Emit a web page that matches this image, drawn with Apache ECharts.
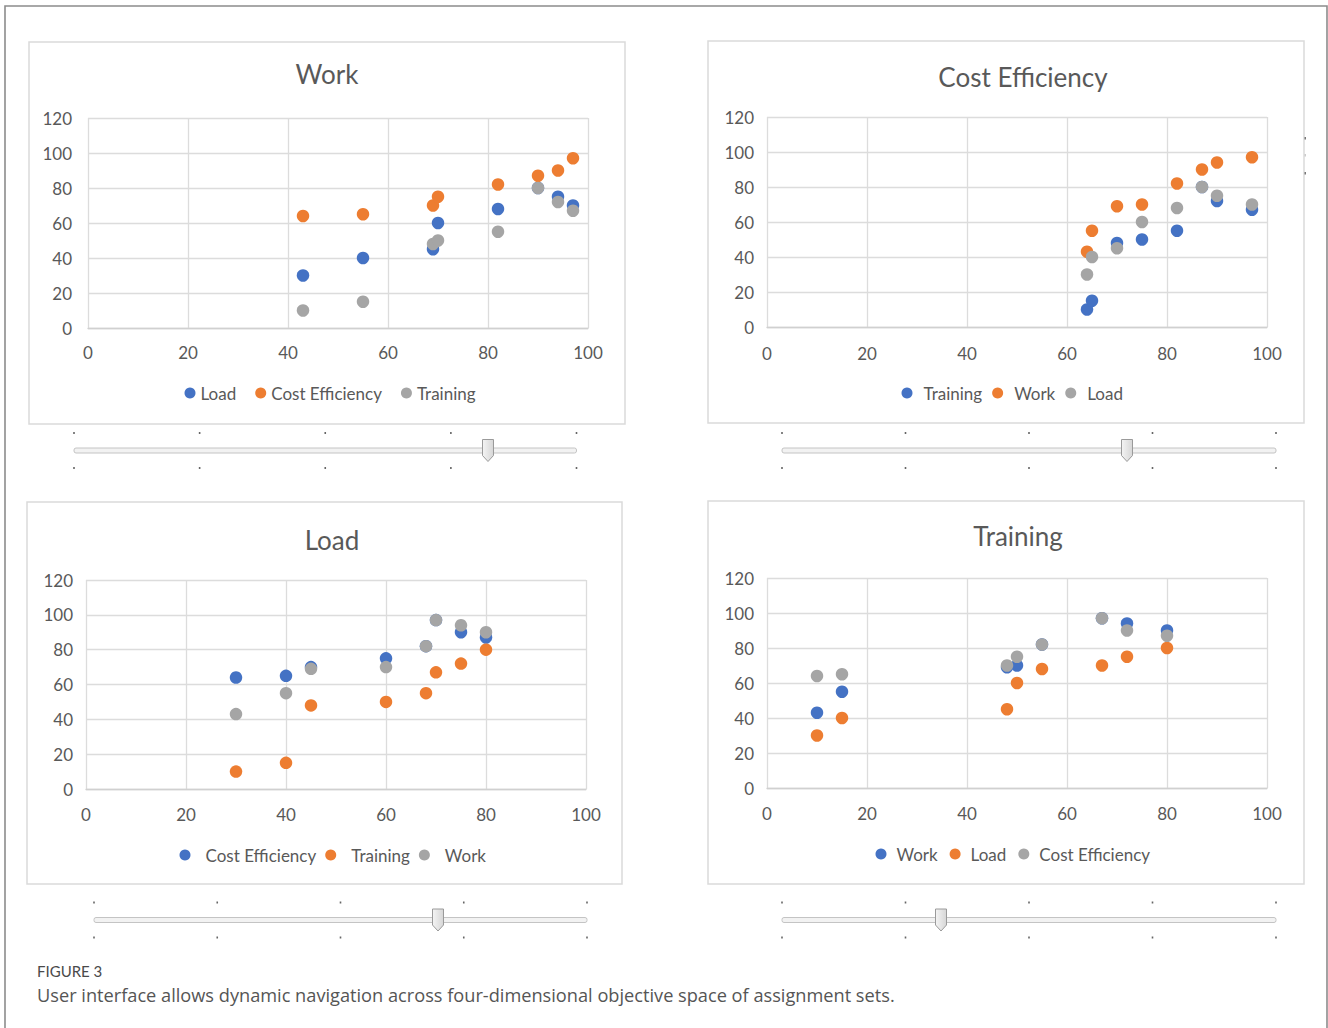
<!DOCTYPE html>
<html><head><meta charset="utf-8">
<script src="https://cdn.jsdelivr.net/npm/echarts@6/dist/echarts.min.js"></script>
<style>html,body{margin:0;padding:0;background:#fff}#c{width:1328px;height:1028px}</style>
</head><body><div id="c"></div>
<script>
// ---- data (one set of 8 assignment sets) ----
const work           = [43, 55, 69, 70, 82, 90, 94, 97];
const costEfficiency = [64, 65, 70, 75, 82, 87, 90, 97];
const training       = [10, 15, 48, 50, 55, 80, 72, 67];
const load           = [30, 40, 45, 60, 68, 80, 75, 70];
const panelTitles = ['Work', 'Cost Efficiency', 'Load', 'Training'];
const xTickMax = 100, yTickMax = 120, tickStep = 20;
const caption1 = 'FIGURE 3';
const caption2 = 'User interface allows dynamic navigation across four-dimensional objective space of assignment sets.';

const BLUE = '#4472C4', ORANGE = '#ED7D31', GRAY = '#A5A5A5';
const FONT = 'Lato, "Open Sans", sans-serif';
const TXT = '#595959';

const metrics = {
  'Work': work, 'Cost Efficiency': costEfficiency, 'Training': training, 'Load': load
};
const panels = [
  { title: panelTitles[0], x: 'Work', series: ['Load', 'Cost Efficiency', 'Training'],
    grid: {left: 88, top: 118, width: 500, height: 210}, box: [29, 42, 596, 382],
    titlePos: [327, 74], legend: {left: 184.5, top: 384.5, gap: 19, pad: 0}, xMargin: 16, yMargin: 16 },
  { title: panelTitles[1], x: 'Cost Efficiency', series: ['Training', 'Work', 'Load'],
    grid: {left: 767, top: 117, width: 500, height: 210}, box: [708, 41, 596, 382],
    titlePos: [1023, 77], legend: {left: 901.5, top: 384.5, gap: 10, pad: 6}, xMargin: 18, yMargin: 13 },
  { title: panelTitles[2], x: 'Load', series: ['Cost Efficiency', 'Training', 'Work'],
    grid: {left: 86, top: 580, width: 500, height: 209}, box: [27, 502, 595, 382],
    titlePos: [332, 540], legend: {left: 179.5, top: 846.5, gap: 9, pad: 10}, xMargin: 17, yMargin: 13 },
  { title: panelTitles[3], x: 'Training', series: ['Work', 'Load', 'Cost Efficiency'],
    grid: {left: 767, top: 578, width: 500, height: 210}, box: [708, 501, 596, 383],
    titlePos: [1018, 536], legend: {left: 875.5, top: 845.5, gap: 12, pad: 5}, xMargin: 17, yMargin: 13 }
];
const colors = [BLUE, ORANGE, GRAY];

const grids = [], xAxes = [], yAxes = [], series = [], legends = [];
const splitLine = {show: true, lineStyle: {color: '#dcdcdc', width: 1.3}};
panels.forEach((p, pi) => {
  grids.push(Object.assign({outerBoundsMode: 'none', containLabel: false}, p.grid));
  xAxes.push({type: 'value', gridIndex: pi, min: 0, max: xTickMax, interval: tickStep,
    axisLine: {show: true, lineStyle: {color: '#d0d0d0', width: 1.3}}, axisTick: {show: false},
    splitLine, axisLabel: {color: TXT, fontSize: 17, fontFamily: FONT, margin: p.xMargin}});
  yAxes.push({type: 'value', gridIndex: pi, min: 0, max: yTickMax, interval: tickStep,
    axisLine: {show: false}, axisTick: {show: false},
    splitLine, axisLabel: {color: TXT, fontSize: 17, fontFamily: FONT, margin: p.yMargin}});
  const names = [];
  p.series.forEach((s, si) => {
    const nm = p.title + '|' + s;
    names.push(nm);
    const xs = metrics[p.x], ys = metrics[s];
    series.push({type: 'scatter', name: nm, xAxisIndex: pi, yAxisIndex: pi,
      symbol: 'circle', symbolSize: 12.5, itemStyle: {color: colors[si], opacity: 1},
      emphasis: {disabled: true}, z: 2 + si,
      data: xs.map((v, i) => [v, ys[i]])});
  });
  legends.push({data: names, left: p.legend.left, top: p.legend.top, orient: 'horizontal',
    padding: 0, itemGap: p.legend.gap, icon: 'circle', itemWidth: 11, itemHeight: 11,
    selectedMode: false,
    formatter: n => n.split('|')[1],
    textStyle: {color: TXT, fontSize: 17, fontFamily: FONT, padding: [0, 0, 0, p.legend.pad]}});
});

// ---- decoration: frame, panel boxes, titles, sliders, caption ----
const g = [];
g.push({type: 'polyline', silent: true, shape: {points: [[5, 1030], [5, 6], [1327, 6], [1327, 1030]]},
  style: {stroke: '#8c8c8c', lineWidth: 1.6, fill: 'none'}});
panels.forEach(p => {
  const [bx, by, bw, bh] = p.box;
  g.push({type: 'rect', silent: true, shape: {x: bx, y: by, width: bw, height: bh},
    style: {fill: 'none', stroke: '#dadada', lineWidth: 1.5}});
  g.push({type: 'text', silent: true, x: p.titlePos[0], y: p.titlePos[1],
    style: {text: p.title, fill: TXT, font: '26px ' + FONT, textAlign: 'center', textVerticalAlign: 'middle'}});
});
function slider(x0, x1, y, tx) {
  for (let k = 0; k < 5; k++) {
    const x = x0 + (x1 - x0) * k / 4;
    g.push({type: 'rect', silent: true, shape: {x: x - 0.8, y: y - 18.5, width: 1.6, height: 2}, style: {fill: '#666'}});
    g.push({type: 'rect', silent: true, shape: {x: x - 0.8, y: y + 16.5, width: 1.6, height: 2}, style: {fill: '#666'}});
  }
  g.push({type: 'rect', silent: true, shape: {x: x0, y: y - 2.5, width: x1 - x0, height: 5, r: 2},
    style: {fill: '#f2f2f2', stroke: '#c4c4c4', lineWidth: 1}});
  g.push({type: 'polygon', silent: true,
    shape: {points: [[tx - 5.5, y - 11], [tx + 5.5, y - 11], [tx + 5.5, y + 5], [tx, y + 11], [tx - 5.5, y + 5]]},
    style: {fill: new echarts.graphic.LinearGradient(0, 0, 1, 0, [{offset: 0, color: '#f4f4f4'}, {offset: 1, color: '#d6d6d6'}]),
      stroke: '#9a9a9a', lineWidth: 1}});
}
slider(74, 576.5, 450.5, 488);
slider(782, 1276, 450.5, 1127);
slider(94, 587, 920, 438);
slider(782, 1276, 920, 941);
// small marks at the right edge of the top-right panel
[[138, '#777'], [155, '#ccc'], [173, '#777']].forEach(([yy, c]) =>
  g.push({type: 'rect', silent: true, shape: {x: 1304.5, y: yy - 1, width: 1.5, height: 2.5}, style: {fill: c}}));
g.push({type: 'text', silent: true, x: 37, y: 971,
  style: {text: caption1, fill: '#4a4a4a', font: '15px ' + FONT, textAlign: 'left', textVerticalAlign: 'middle'}});
g.push({type: 'text', silent: true, x: 37, y: 995,
  style: {text: caption2, fill: '#555', font: '18.2px "Open Sans", sans-serif', textAlign: 'left', textVerticalAlign: 'middle'}});

const chart = echarts.init(document.getElementById('c'), null, {renderer: 'svg', width: 1328, height: 1028});
chart.setOption({
  backgroundColor: '#fff', animation: false,
  grid: grids, xAxis: xAxes, yAxis: yAxes, legend: legends, series, graphic: {elements: g}
});
</script></body></html>
